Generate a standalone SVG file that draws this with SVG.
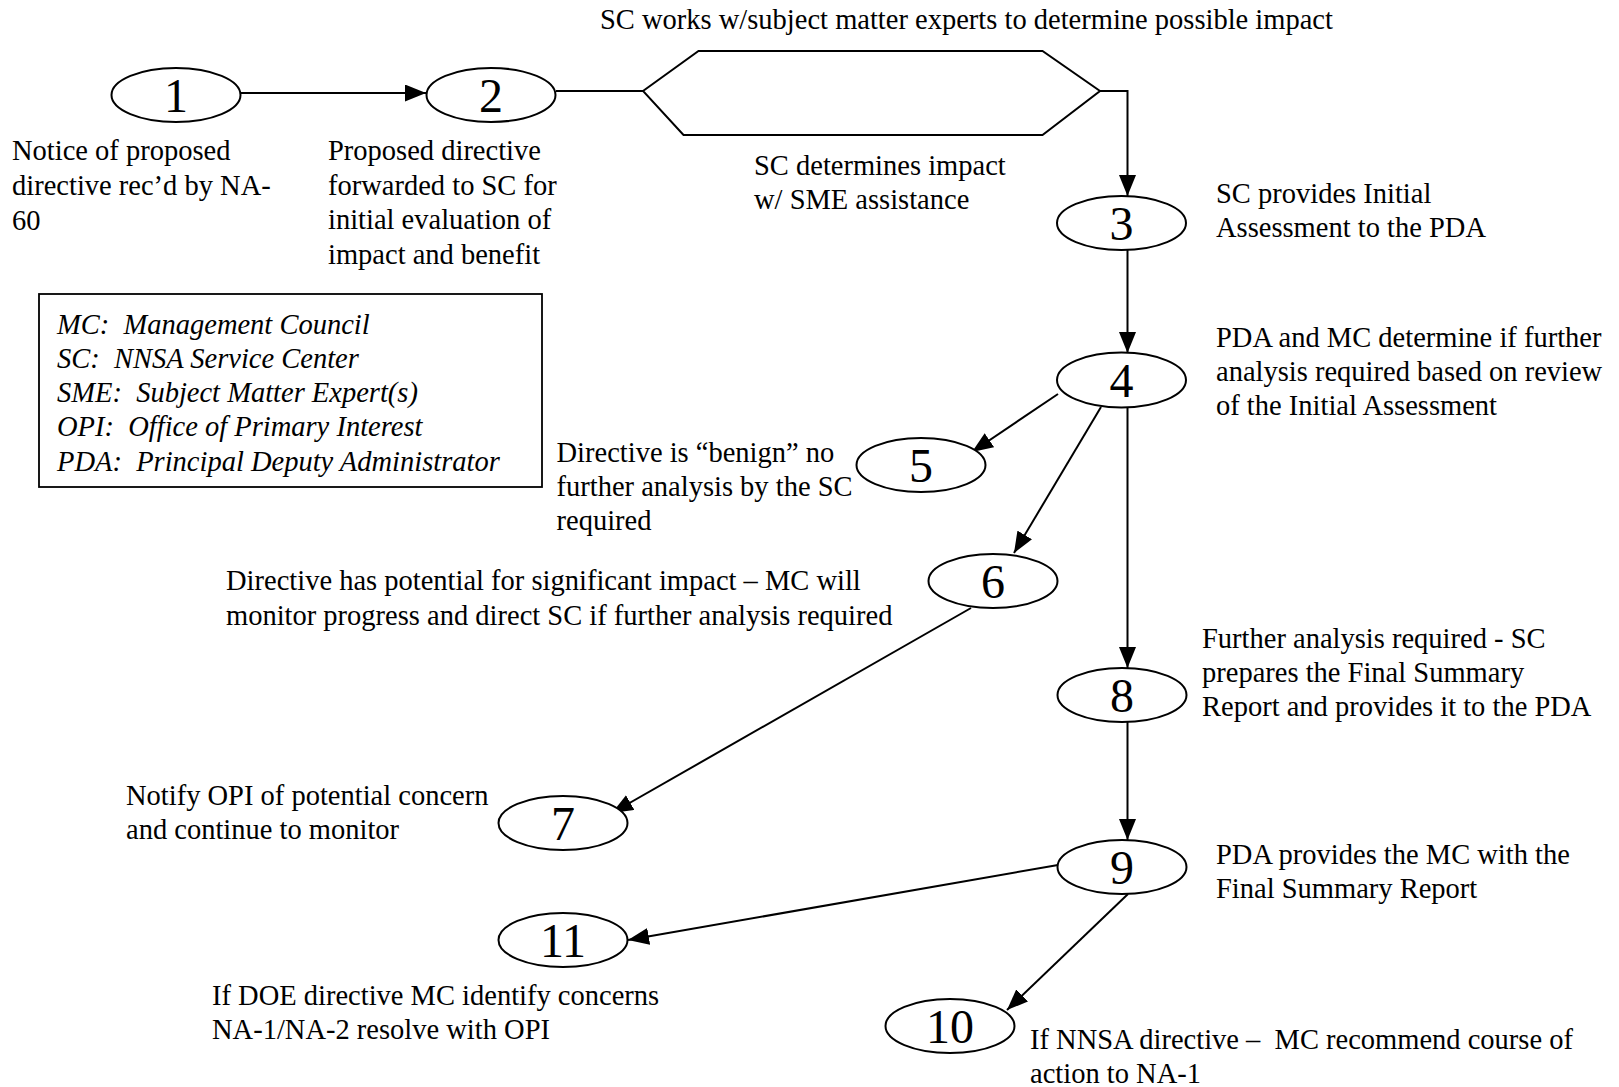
<svg xmlns="http://www.w3.org/2000/svg" width="1619" height="1087" viewBox="0 0 1619 1087">
<style>
  .bg { fill: #ffffff; }
  .node { fill: #ffffff; stroke: #000000; stroke-width: 2; }
  .num { font-family: "Liberation Serif", "Times New Roman", serif; font-size: 48px; fill: #000000; text-anchor: middle; }
  .lbl { font-family: "Liberation Serif", "Times New Roman", serif; font-size: 28.5px; fill: #000000; white-space: pre; }
  .leg { font-family: "Liberation Serif", "Times New Roman", serif; font-size: 28.5px; font-style: italic; fill: #000000; white-space: pre; }
  .edge { fill: none; stroke: #000000; stroke-width: 2; }
  .box { fill: #ffffff; stroke: #000000; stroke-width: 1.8; }
</style>
<defs>
  <marker id="arrow" markerUnits="userSpaceOnUse" markerWidth="21" markerHeight="17" refX="21" refY="8.5" orient="auto">
    <path d="M0,0 L21,8.5 L0,17 z" fill="#000000"/>
  </marker>
</defs>
<rect class="bg" x="0" y="0" width="1619" height="1087"/>

<g id="connectors">
  <line class="edge" x1="241" y1="93" x2="426" y2="93" marker-end="url(#arrow)"/>
  <line class="edge" x1="556" y1="91" x2="643" y2="91"/>
  <polyline class="edge" points="1100,91 1127.5,91 1127.5,196" marker-end="url(#arrow)"/>
  <line class="edge" x1="1127.5" y1="250" x2="1127.5" y2="353" marker-end="url(#arrow)"/>
  <line class="edge" x1="1058" y1="394" x2="972" y2="452" marker-end="url(#arrow)"/>
  <line class="edge" x1="1101" y1="407" x2="1014" y2="553" marker-end="url(#arrow)"/>
  <line class="edge" x1="1127.5" y1="407.5" x2="1127.5" y2="668" marker-end="url(#arrow)"/>
  <line class="edge" x1="971" y1="608" x2="612" y2="813" marker-end="url(#arrow)"/>
  <line class="edge" x1="1127.5" y1="722" x2="1127.5" y2="840" marker-end="url(#arrow)"/>
  <line class="edge" x1="1058" y1="865" x2="628" y2="940" marker-end="url(#arrow)"/>
  <line class="edge" x1="1128" y1="894" x2="1007" y2="1010" marker-end="url(#arrow)"/>
</g>

<g id="hexagon">
  <polygon class="node" points="643,91 698.5,51 1042.5,51 1100,91 1042.5,135 683.5,135"/>
  <text class="lbl" x="600" y="29">SC works w/subject matter experts to determine possible impact</text>
  <text class="lbl" x="754" y="175">SC determines impact</text>
  <text class="lbl" x="754" y="209">w/ SME assistance</text>
</g>

<g id="node1">
  <ellipse class="node" cx="176" cy="95" rx="64.5" ry="27"/>
  <text class="num" x="176" y="112">1</text>
  <text class="lbl" x="12" y="160">Notice of proposed</text>
  <text class="lbl" x="12" y="195">directive rec’d by NA-</text>
  <text class="lbl" x="12" y="230">60</text>
</g>

<g id="node2">
  <ellipse class="node" cx="491" cy="95" rx="64.5" ry="27"/>
  <text class="num" x="491" y="112">2</text>
  <text class="lbl" x="328" y="160">Proposed directive</text>
  <text class="lbl" x="328" y="194.5">forwarded to SC for</text>
  <text class="lbl" x="328" y="229">initial evaluation of</text>
  <text class="lbl" x="328" y="263.5">impact and benefit</text>
</g>

<g id="node3">
  <ellipse class="node" cx="1121.5" cy="223" rx="64.5" ry="27"/>
  <text class="num" x="1121.5" y="240">3</text>
  <text class="lbl" x="1216" y="203">SC provides Initial</text>
  <text class="lbl" x="1216" y="237">Assessment to the PDA</text>
</g>

<g id="node4">
  <ellipse class="node" cx="1121.5" cy="380" rx="64.5" ry="27.5"/>
  <text class="num" x="1121.5" y="397">4</text>
  <text class="lbl" x="1216" y="347">PDA and MC determine if further</text>
  <text class="lbl" x="1216" y="381">analysis required based on review</text>
  <text class="lbl" x="1216" y="415">of the Initial Assessment</text>
</g>

<g id="node5">
  <ellipse class="node" cx="921" cy="465" rx="64.5" ry="27"/>
  <text class="num" x="921" y="482">5</text>
  <text class="lbl" x="556.5" y="462">Directive is “benign” no</text>
  <text class="lbl" x="556.5" y="496">further analysis by the SC</text>
  <text class="lbl" x="556.5" y="530">required</text>
</g>

<g id="node6">
  <ellipse class="node" cx="993" cy="581" rx="64.5" ry="27"/>
  <text class="num" x="993" y="598">6</text>
  <text class="lbl" x="226" y="590">Directive has potential for significant impact – MC will</text>
  <text class="lbl" x="226" y="625">monitor progress and direct SC if further analysis required</text>
</g>

<g id="node7">
  <ellipse class="node" cx="563" cy="823" rx="64.5" ry="27"/>
  <text class="num" x="563" y="840">7</text>
  <text class="lbl" x="126" y="805">Notify OPI of potential concern</text>
  <text class="lbl" x="126" y="839">and continue to monitor</text>
</g>

<g id="node8">
  <ellipse class="node" cx="1122" cy="695" rx="64.5" ry="27"/>
  <text class="num" x="1122" y="712">8</text>
  <text class="lbl" x="1202" y="648">Further analysis required - SC</text>
  <text class="lbl" x="1202" y="682">prepares the Final Summary</text>
  <text class="lbl" x="1202" y="716">Report and provides it to the PDA</text>
</g>

<g id="node9">
  <ellipse class="node" cx="1122" cy="867" rx="64.5" ry="27"/>
  <text class="num" x="1122" y="884">9</text>
  <text class="lbl" x="1216" y="864">PDA provides the MC with the</text>
  <text class="lbl" x="1216" y="898">Final Summary Report</text>
</g>

<g id="node10">
  <ellipse class="node" cx="950" cy="1026" rx="64.5" ry="27"/>
  <text class="num" x="950" y="1043">10</text>
  <text class="lbl" x="1030" y="1049">If NNSA directive –  MC recommend course of</text>
  <text class="lbl" x="1030" y="1083">action to NA-1</text>
</g>

<g id="node11">
  <ellipse class="node" cx="563" cy="940" rx="64.5" ry="27"/>
  <text class="num" x="563" y="957">11</text>
  <text class="lbl" x="212" y="1005">If DOE directive MC identify concerns</text>
  <text class="lbl" x="212" y="1039">NA-1/NA-2 resolve with OPI</text>
</g>

<g id="legend">
  <rect class="box" x="39" y="294" width="503" height="193"/>
  <text class="leg" x="57" y="334">MC:  Management Council</text>
  <text class="leg" x="57" y="368">SC:  NNSA Service Center</text>
  <text class="leg" x="57" y="402">SME:  Subject Matter Expert(s)</text>
  <text class="leg" x="57" y="436">OPI:  Office of Primary Interest</text>
  <text class="leg" x="57" y="471">PDA:  Principal Deputy Administrator</text>
</g>
</svg>
